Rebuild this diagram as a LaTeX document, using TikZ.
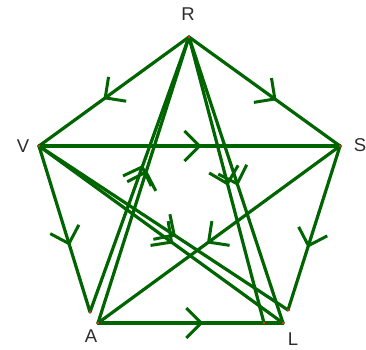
\documentclass[tikz,border=0pt]{standalone}
\usepackage{fontspec}
\setmainfont{Liberation Sans}
\usetikzlibrary{arrows.meta,decorations.markings}
\definecolor{dg}{RGB}{0,100,0}
\definecolor{reddot}{RGB}{230,40,30}
\definecolor{lab}{RGB}{45,45,45}
\begin{document}
\begin{tikzpicture}[x=1pt,y=-1pt,
  arc/.style={draw=dg,line width=3.2pt,line cap=round,postaction={decorate},
    decoration={markings,mark=at position #1 with {\arrow[dg,line width=3pt]{Straight Barb[length=15pt,width=30pt]}}}},
  arc/.default=0.56,
  lbl/.style={text=lab,font=\fontsize{18.5}{20}\selectfont,inner sep=0pt},
  vdot/.style={fill=reddot,minimum size=2.6pt,inner sep=0pt,rectangle}
]
\useasboundingbox (0,0) rectangle (366,349);
\fill[white] (0,0) rectangle (366,349);
% vertices
\coordinate (R) at (189,37);
\coordinate (V) at (39,146);
\coordinate (S) at (340,146);
\coordinate (A) at (98,323);
\coordinate (A2) at (90,312);
\coordinate (L) at (283,323);
\coordinate (L1) at (264,323);
\coordinate (L2) at (288,310);
% pentagon edges
\draw[arc=0.57] (R) -- (V);
\draw[arc=0.58] (R) -- (S);
\draw[arc=0.60] (V) -- (A2);
\draw[arc=0.62] (S) -- (L2);
\draw[arc=0.57] (A) -- (L);
% star edges
\draw[arc=0.54] (V) -- (S);
\draw[arc=0.55] (S) -- (A);
\draw[arc=0.55] (V) -- (L);
\draw[arc=0.55] (V) -- (L2);
\draw[arc=0.535] (A) -- (R);
\draw[arc=0.535] (A2) -- (R);
\draw[arc=0.52] (R) -- (L1);
\draw[arc=0.52] (R) -- (L);
% end dots
\node[vdot] (dR) at (R) {};
\node[vdot] (dV) at (V) {};
\node[vdot] (dS) at (S) {};
\node[vdot] (dA) at (A) {};
\node[vdot] (dA2) at (A2) {};
\node[vdot] (dL) at (L) {};
\node[vdot] (dL1) at (L1) {};
\node[vdot] (dL2) at (L2) {};
% labels
\node[lbl] (tR) at (188,14) {R};
\node[lbl] (tV) at (23,146) {V};
\node[lbl] (tS) at (360,145) {S};
\node[lbl] (tA) at (91,336) {A};
\node[lbl] (tL) at (293,339) {L};
\end{tikzpicture}
\end{document}
